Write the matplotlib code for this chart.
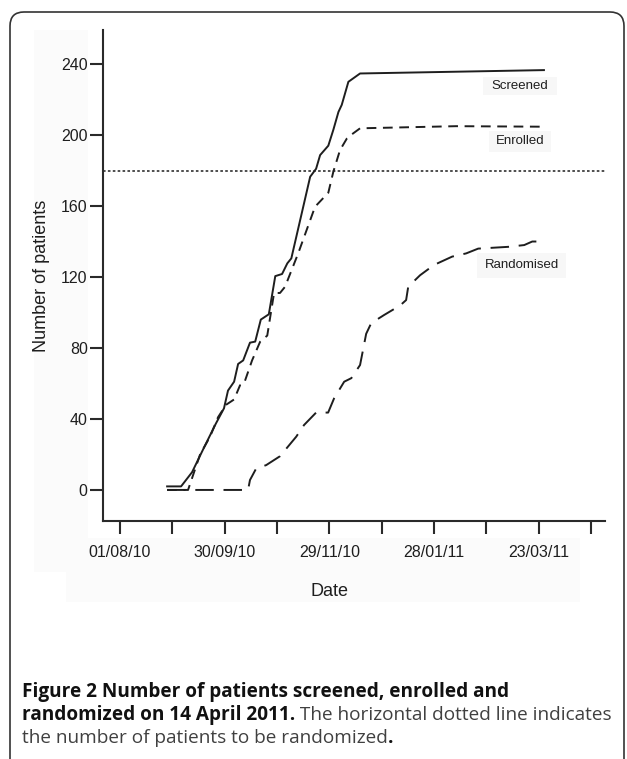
import matplotlib
matplotlib.use('Agg')
import matplotlib.pyplot as plt
from matplotlib.patches import Rectangle, FancyBboxPatch
from matplotlib.transforms import IdentityTransform

# days since 01/08/10
scr_days = [27, 35, 41.3, 48.2, 55, 59.6, 61.9, 65.4, 67.7, 70.6, 74.5, 77.5, 80.7, 85.3, 89, 92.9,
            95.9, 98.2, 109, 112.4, 114.7, 119.4, 122.3, 125.2, 127.1, 130.9, 137.6, 243]
scr_vals = [2, 2, 10, 24, 37.5, 46, 56, 61, 71, 73, 83, 83.6, 96, 99, 120.5, 121.7,
            127.7, 130.5, 176.5, 181, 188.7, 194, 203, 213, 217, 230, 234.7, 236.6]

enr_days = [27, 35.6, 39, 45.9, 51.6, 56.2, 60.8, 65.4, 68.8, 71.1, 75.7, 80.3, 84.4, 88.3, 91.7,
            94.6, 102.2, 111.8, 119.4, 122.3, 126.1, 130, 132.9, 137.6, 192.7, 243]
enr_vals = [0, 0, 0, 20, 30, 41, 48, 51, 59, 60, 73, 83.5, 87, 111, 111,
            114.5, 133.5, 159.6, 167.5, 179.4, 191.5, 198, 200.4, 203.8, 205, 204.7]

ran_days = [27, 73.4, 74.5, 78, 83.8, 91.7, 101, 105.5, 112.4, 119.3, 122.7, 128.5, 132.6, 137.6,
            141.1, 144, 151.4, 160.6, 164, 165.2, 172, 180, 190.4, 198.4, 205.3, 222.5, 231.7,
            236.3, 243.2]
ran_vals = [0, 0, 5.6, 12, 14, 19, 30, 36.6, 43.6, 43.6, 51.6, 61, 63, 70.4,
            88, 94, 98.6, 104, 107, 114.5, 121, 126.8, 131.5, 133.3, 136, 137, 138,
            140, 140]

target = 180
tick_days = [0, 30, 60, 90, 120, 150, 180, 210, 240, 270]
tick_labels = ['01/08/10', '', '30/09/10', '', '29/11/10', '', '28/01/11', '', '23/03/11', '']
yticks = [0, 40, 80, 120, 160, 200, 240]

W, H = 627, 759
fig = plt.figure(figsize=(W / 100, H / 100), dpi=100)
fig.patch.set_facecolor('white')

# faint grey backgrounds left over from the figure panel
for x0, y0, x1, y1 in [(34, 30, 88, 572), (88, 538, 580, 572), (66, 572, 580, 602)]:
    fig.patches.append(Rectangle((x0 / W, 1 - y1 / H), (x1 - x0) / W, (y1 - y0) / H,
                                 transform=fig.transFigure, color='#fbfbfb', lw=0, zorder=-5))

# rounded frame
fig.patches.append(FancyBboxPatch((10, -30), 614, 747 + 30, boxstyle='round,pad=0,rounding_size=14',
                                  transform=IdentityTransform(), fill=False, ec='#333333', lw=1.2,
                                  zorder=-4))

ax = fig.add_axes([103 / W, 1 - 521 / H, (605 - 103) / W, (521 - 30) / H])
ax.set_facecolor('none')
ink = '#1e1e1e'

ax.plot(scr_days, scr_vals, color=ink, lw=1.4)
ax.plot(enr_days, enr_vals, color=ink, lw=1.4, dashes=(5, 3.4))
ax.plot(ran_days, ran_vals, color=ink, lw=1.4, dashes=(9.5, 5))
ax.axhline(target, color=ink, lw=1.1, dashes=(1.7, 1.5))

ax.set_xlim(-9.75, 278)
ax.set_ylim(-17.5, 259.2)
ax.set_xticks(tick_days)
ax.set_xticklabels(tick_labels)
ax.set_yticks(yticks)
for s in ['top', 'right']:
    ax.spines[s].set_visible(False)
for s in ['left', 'bottom']:
    ax.spines[s].set_linewidth(1.5)
    ax.spines[s].set_color('#2a2a2a')
ax.tick_params(axis='both', direction='out', length=9.5, width=1.5, color='#2a2a2a',
               labelsize=11.5, labelcolor=ink)
ax.tick_params(axis='x', pad=7.5)
ax.tick_params(axis='y', pad=1.5)
for lab in ax.get_xticklabels() + ax.get_yticklabels():
    lab.set_family('Liberation Sans')

fig.text(42 / W, 1 - 276 / H, 'Number of patients', rotation=90, ha='center', va='center',
         fontsize=13, family='Liberation Sans', color=ink)
fig.text(329 / W, 1 - 592 / H, 'Date', ha='center', va='center',
         fontsize=13, family='Liberation Sans', color=ink)

# series labels with pale boxes
for txt, (x0, y0, x1, y1) in [('Screened', (483, 77, 557, 95)),
                              ('Enrolled', (489, 131, 551, 152)),
                              ('Randomised', (477, 253, 566, 278))]:
    fig.patches.append(Rectangle((x0 / W, 1 - y1 / H), (x1 - x0) / W, (y1 - y0) / H,
                                 transform=fig.transFigure, color='#f7f7f7', lw=0, zorder=-5))
    fig.text((x0 + x1) / 2 / W, 1 - (y0 + y1) / 2 / H, txt, ha='center', va='center',
             fontsize=9.5, family='Liberation Sans', color=ink)

# caption, runs of bold and regular text
cap_lines = [
    [('Figure 2 Number of patients screened, enrolled and', 'bold')],
    [('randomized on 14 April 2011.', 'bold'), (' The horizontal dotted line indicates', 'normal')],
    [('the number of patients to be randomized', 'normal'), ('.', 'bold')],
]
cap_y = [692, 715, 738]
renderer = fig.canvas.get_renderer()
for runs, yy in zip(cap_lines, cap_y):
    x = 22
    for s, w in runs:
        t = fig.text(x / W, 1 - yy / H, s, ha='left', va='center', fontsize=13.7,
                     family='Open Sans', weight=w,
                     color='#111111' if w == 'bold' else '#404040')
        bb = t.get_window_extent(renderer)
        x += bb.width

fig.savefig('out.png', dpi=100)
